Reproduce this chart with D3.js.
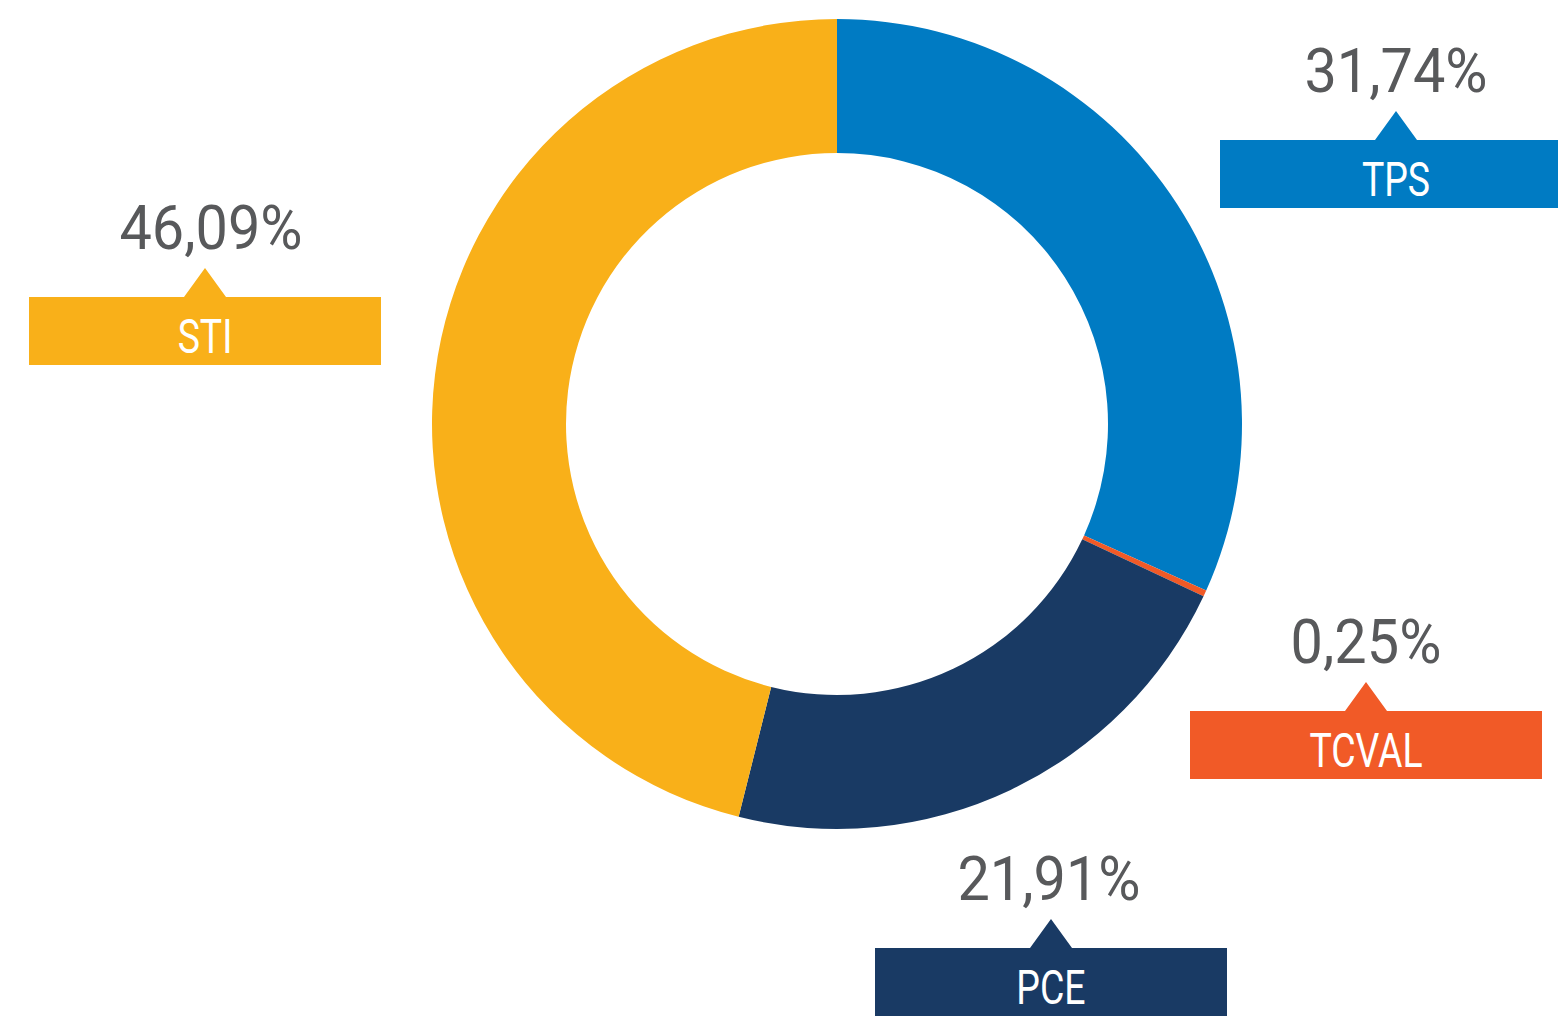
<!DOCTYPE html>
<html>
<head>
<meta charset="utf-8">
<script src="https://cdn.jsdelivr.net/npm/d3@7"></script>
<style>
  html, body { margin: 0; padding: 0; background: #ffffff; }
  svg { display: block; }
  text { font-family: "Roboto", "Liberation Sans", sans-serif; }
</style>
</head>
<body>
<svg id="chart" width="1558" height="1016"></svg>
<script>
// ---- data ----
const categories = ["TPS", "TCVAL", "PCE", "STI"];
const values = [31.74, 0.25, 21.91, 46.09];
const valueLabels = ["31,74%", "0,25%", "21,91%", "46,09%"];
const colors = ["#007BC3", "#F15A27", "#193A64", "#F9B019"];

// ---- layout (positions of the callout boxes, not data) ----
const layout = {
  cx: 837, cy: 424, outer: 405, inner: 271,
  boxW: 352, boxH: 68, triH: 29, triHalf: 21,
  boxes: {
    TPS:   { x: 1220, y: 140, dx: 0 },
    TCVAL: { x: 1190, y: 711, dx: 0 },
    PCE:   { x: 875,  y: 948, dx: -2 },
    STI:   { x: 29,   y: 297, dx: 6 }
  }
};

const svg = d3.select("#chart");
const data = categories.map((c, i) => ({ cat: c, value: values[i], label: valueLabels[i], color: colors[i] }));

const pie = d3.pie().sort(null).value(d => d.value).startAngle(0).endAngle(2 * Math.PI);
const arc = d3.arc().innerRadius(layout.inner).outerRadius(layout.outer);

svg.append("g")
  .attr("transform", `translate(${layout.cx},${layout.cy})`)
  .selectAll("path")
  .data(pie(data))
  .join("path")
  .attr("d", arc)
  .attr("fill", d => d.data.color);

const callouts = svg.append("g").selectAll("g")
  .data(data)
  .join("g")
  .attr("transform", d => `translate(${layout.boxes[d.cat].x},${layout.boxes[d.cat].y})`);

callouts.append("path")
  .attr("fill", d => d.color)
  .attr("d", d => {
    const w = layout.boxW, h = layout.boxH, m = w / 2;
    return `M0,0 H${m - layout.triHalf} L${m},${-layout.triH} L${m + layout.triHalf},0 H${w} V${h} H0 Z`;
  });

callouts.append("text")
  .attr("transform", `translate(${layout.boxW / 2},56) scale(0.78,1)`)
  .attr("text-anchor", "middle")
  .attr("fill", "#ffffff")
  .attr("font-size", 48)
  .text(d => d.cat);

callouts.append("text")
  .attr("transform", d => `translate(${layout.boxW / 2 + layout.boxes[d.cat].dx},-48) scale(0.93,1)`)
  .attr("text-anchor", "middle")
  .attr("fill", "#58595B")
  .attr("font-size", 62)
  .text(d => d.label);
</script>
</body>
</html>
